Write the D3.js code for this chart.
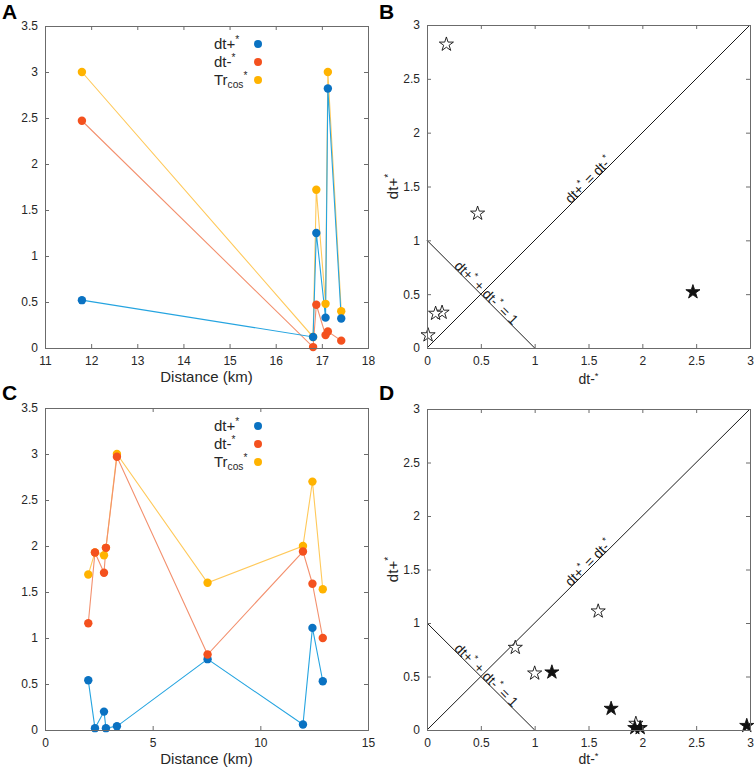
<!DOCTYPE html>
<html>
<head>
<meta charset="utf-8">
<script src="https://cdn.jsdelivr.net/npm/d3@7"></script>
<style>
  body { margin: 0; background: #fff; }
  svg text { font-family: "Liberation Sans", Arial, sans-serif; white-space: pre; }
</style>
</head>
<body>
<svg id="chart" width="754" height="768"></svg>
<script>
// 上段 (A, B) のデータ
const distA = [11.8, 16.81, 16.88, 17.08, 17.13, 17.42];
const dtPlusA = [0.52, 0.12, 1.25, 0.33, 2.82, 0.32];
const dtMinusA = [2.47, 0.01, 0.47, 0.14, 0.18, 0.08];
const trCosA = [3.0, 0.12, 1.72, 0.48, 3.0, 0.40];
const filledA = [true, false, false, false, false, false];

// 下段 (C, D) のデータ
const distC = [2.01, 2.32, 2.74, 2.83, 3.34, 7.55, 11.98, 12.42, 12.9];
const dtPlusC = [0.54, 0.02, 0.20, 0.02, 0.04, 0.77, 0.06, 1.11, 0.53];
const dtMinusC = [1.16, 1.93, 1.71, 1.98, 2.97, 0.82, 1.94, 1.59, 1.00];
const trCosC = [1.69, 1.93, 1.90, 1.98, 3.0, 1.60, 2.0, 2.70, 1.53];
const filledC = [true, true, true, true, true, false, false, false, false];

// 軸目盛り
const distTicksA = [11, 12, 13, 14, 15, 16, 17, 18];
const distTicksC = [0, 5, 10, 15];
const valTicks = [0, 0.5, 1, 1.5, 2, 2.5, 3, 3.5];
const dtTicks = [0, 0.5, 1, 1.5, 2, 2.5, 3];

const COLORS = {
    plus:  { dot: "#0A72C2", line: "#25A4E0" },
    minus: { dot: "#F4511E", line: "#F3906E" },
    tr:    { dot: "#FFB300", line: "#FFC95A" }
};
const AXIS_COLOR = "#6b6b6b";
const TEXT_COLOR = "#262626";

const svg = d3.select("#chart");

/**
 * 上付き・下付きを含むテキストを tspan で組み立てる
 */
function richText(sel, parts, size, supRaise = 0.42) {
    let shift = 0;
    parts.forEach(([s, kind]) => {
        const target = kind === "sup" ? -supRaise * size : kind === "sub" ? 0.22 * size : 0;
        sel.append("tspan")
            .attr("dy", target - shift)
            .attr("font-size", kind ? size * 0.68 : size)
            .text(s);
        shift = target;
    });
    return sel;
}

/**
 * 四辺に内向き目盛りのある枠を描く
 */
function drawFrame(g, x, y, xTicks, yTicks) {
    const [x0, x1] = x.range();
    const [y0, y1] = y.range();
    const fmt = d => String(d);

    g.append("g").attr("transform", `translate(0,${y0})`)
        .call(d3.axisBottom(x).tickValues(xTicks).tickSize(-4).tickPadding(8).tickFormat(fmt));
    g.append("g").attr("transform", `translate(0,${y1})`)
        .call(d3.axisTop(x).tickValues(xTicks).tickSize(-4).tickFormat(""));
    g.append("g").attr("transform", `translate(${x0},0)`)
        .call(d3.axisLeft(y).tickValues(yTicks).tickSize(-4).tickPadding(7).tickFormat(fmt));
    g.append("g").attr("transform", `translate(${x1},0)`)
        .call(d3.axisRight(y).tickValues(yTicks).tickSize(-4).tickFormat(""));

    g.selectAll(".domain").attr("stroke", AXIS_COLOR);
    g.selectAll(".tick line").attr("stroke", AXIS_COLOR);
    g.selectAll(".tick text").attr("fill", TEXT_COLOR).attr("font-size", 12)
        .attr("font-family", "Liberation Sans, Arial, sans-serif");
}

function panelLabel(txt, x, y) {
    svg.append("text").attr("x", x).attr("y", y)
        .attr("font-size", 21).attr("font-weight", "bold").attr("fill", "#000").text(txt);
}

/**
 * 距離に対する dt+*, dt-*, Tr_cos* の折れ線パネル
 */
function drawLinePanel(box, dist, plus, minus, tr, xTicks) {
    const x = d3.scaleLinear().domain([xTicks[0], xTicks[xTicks.length - 1]]).range([box.left, box.right]);
    const y = d3.scaleLinear().domain([0, 3.5]).range([box.bottom, box.top]);
    const g = svg.append("g");

    const series = [
        { vals: tr, c: COLORS.tr },
        { vals: minus, c: COLORS.minus },
        { vals: plus, c: COLORS.plus }
    ];
    const line = d3.line().x((d, i) => x(dist[i])).y(d => y(d));

    series.forEach(s => {
        g.append("path").datum(s.vals).attr("d", line)
            .attr("fill", "none").attr("stroke", s.c.line).attr("stroke-width", 1.1);
    });
    // マーカーの重なり順: 黄 → 青 → 橙
    [series[0], series[2], series[1]].forEach(s => {
        g.selectAll(null).data(s.vals).join("circle")
            .attr("cx", (d, i) => x(dist[i])).attr("cy", d => y(d))
            .attr("r", 4.2).attr("fill", s.c.dot);
    });

    drawFrame(g, x, y, xTicks, valTicks);

    // 凡例
    const legend = [
        { parts: [["dt+"], ["*", "sup"]], c: COLORS.plus.dot },
        { parts: [["dt-"], ["*", "sup"]], c: COLORS.minus.dot },
        { parts: [["Tr"], ["cos", "sub"], ["*", "sup"]], c: COLORS.tr.dot }
    ];
    legend.forEach((l, i) => {
        const ly = box.top + 18 + i * 18;
        richText(g.append("text").attr("x", box.left + 169).attr("y", ly + 5).attr("fill", TEXT_COLOR), l.parts, 15);
        g.append("circle").attr("cx", box.left + 213).attr("cy", ly).attr("r", 4).attr("fill", l.c);
    });

    g.append("text").attr("x", (box.left + box.right) / 2).attr("y", box.bottom + 34)
        .attr("text-anchor", "middle").attr("font-size", 15).attr("fill", TEXT_COLOR)
        .text("Distance (km)");
}

/**
 * dt-* 対 dt+* の星印散布図パネル
 */
function drawStarPanel(box, minus, plus, filled, xLabelGap) {
    const x = d3.scaleLinear().domain([0, 3]).range([box.left, box.right]);
    const y = d3.scaleLinear().domain([0, 3]).range([box.bottom, box.top]);
    const g = svg.append("g");

    // 基準線 dt+* = dt-* と dt+* + dt-* = 1
    g.append("line").attr("x1", x(0)).attr("y1", y(0)).attr("x2", x(3)).attr("y2", y(3))
        .attr("stroke", "#1a1a1a").attr("stroke-width", 1);
    g.append("line").attr("x1", x(0)).attr("y1", y(1)).attr("x2", x(1)).attr("y2", y(0))
        .attr("stroke", "#1a1a1a").attr("stroke-width", 1);

    const star = d3.symbol().type(d3.symbolStar).size(62);
    const pts = minus.map((m, i) => ({ m, p: plus[i], f: filled[i] }));
    g.selectAll(null).data(pts.filter(d => !d.f).concat(pts.filter(d => d.f))).join("path")
        .attr("d", star)
        .attr("transform", d => `translate(${x(d.m)},${y(d.p)})`)
        .attr("fill", d => d.f ? "#111" : "#fff")
        .attr("stroke", "#111").attr("stroke-width", 0.9);

    drawFrame(g, x, y, dtTicks, dtTicks);

    // 対角線上の注記
    const t1 = g.append("text").attr("fill", "#1a1a1a")
        .attr("transform", `translate(${x(1.53)},${y(1.53)}) rotate(-45)`)
        .attr("text-anchor", "middle").attr("dy", -4);
    richText(t1, [["dt+"], ["*", "sup"], [" = dt-"], ["*", "sup"]], 14);

    const t2 = g.append("text").attr("fill", "#1a1a1a")
        .attr("transform", `translate(${x(0.52)},${y(0.48)}) rotate(45)`)
        .attr("text-anchor", "middle").attr("dy", -3);
    richText(t2, [["dt+"], ["*", "sup"], [" + dt-"], ["*", "sup"], [" = 1"]], 14);

    richText(g.append("text").attr("x", (box.left + box.right) / 2).attr("y", box.bottom + xLabelGap)
        .attr("text-anchor", "middle").attr("fill", TEXT_COLOR), [["dt-"], ["*", "sup"]], 14, 0.34);
    richText(g.append("text")
        .attr("transform", `translate(${box.left - 29},${(box.top + box.bottom) / 2}) rotate(-90)`)
        .attr("text-anchor", "middle").attr("fill", TEXT_COLOR), [["dt+"], ["*", "sup"]], 15);
}

drawLinePanel({ left: 45, right: 368, top: 26, bottom: 348 }, distA, dtPlusA, dtMinusA, trCosA, distTicksA);
drawStarPanel({ left: 427, right: 750, top: 25, bottom: 348 }, dtMinusA, dtPlusA, filledA, 36);
drawLinePanel({ left: 45, right: 368, top: 408, bottom: 730 }, distC, dtPlusC, dtMinusC, trCosC, distTicksC);
drawStarPanel({ left: 427, right: 750, top: 409, bottom: 730 }, dtMinusC, dtPlusC, filledC, 34);

panelLabel("A", 2, 19);
panelLabel("B", 379, 19);
panelLabel("C", 2, 400);
panelLabel("D", 379, 400);
</script>
</body>
</html>
